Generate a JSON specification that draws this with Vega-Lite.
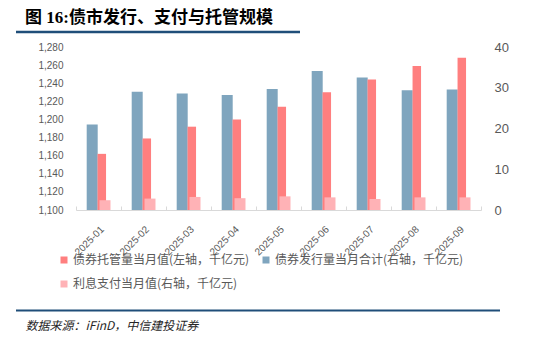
{
  "$schema": "https://vega.github.io/schema/vega-lite/v6.json",
  "width": 405,
  "height": 163,
  "autosize": {"type": "none"},
  "padding": {"left": 76, "top": 47, "right": 69, "bottom": 130},
  "background": "white",
  "config": {"view": {"stroke": null}, "font": "Noto Sans CJK SC"},
  "title": {
    "text": "图 16:债市发行、支付与托管规模",
    "anchor": "start",
    "frame": "group",
    "dx": -51,
    "offset": 4,
    "fontSize": 17,
    "fontWeight": "bold",
    "font": "Liberation Serif, Noto Sans CJK SC",
    "color": "#000000"
  },
  "data": {
    "values": [
      {"month": "2025-01", "series": "债券托管量当月值(左轴，千亿元)", "value": 1162},
      {"month": "2025-02", "series": "债券托管量当月值(左轴，千亿元)", "value": 1179},
      {"month": "2025-03", "series": "债券托管量当月值(左轴，千亿元)", "value": 1192},
      {"month": "2025-04", "series": "债券托管量当月值(左轴，千亿元)", "value": 1200},
      {"month": "2025-05", "series": "债券托管量当月值(左轴，千亿元)", "value": 1214},
      {"month": "2025-06", "series": "债券托管量当月值(左轴，千亿元)", "value": 1230},
      {"month": "2025-07", "series": "债券托管量当月值(左轴，千亿元)", "value": 1244},
      {"month": "2025-08", "series": "债券托管量当月值(左轴，千亿元)", "value": 1259},
      {"month": "2025-09", "series": "债券托管量当月值(左轴，千亿元)", "value": 1268},
      {"month": "2025-01", "series": "债券发行量当月合计(右轴，千亿元)", "value": 21.0},
      {"month": "2025-02", "series": "债券发行量当月合计(右轴，千亿元)", "value": 29.0},
      {"month": "2025-03", "series": "债券发行量当月合计(右轴，千亿元)", "value": 28.6},
      {"month": "2025-04", "series": "债券发行量当月合计(右轴，千亿元)", "value": 28.2},
      {"month": "2025-05", "series": "债券发行量当月合计(右轴，千亿元)", "value": 29.7},
      {"month": "2025-06", "series": "债券发行量当月合计(右轴，千亿元)", "value": 34.1},
      {"month": "2025-07", "series": "债券发行量当月合计(右轴，千亿元)", "value": 32.5},
      {"month": "2025-08", "series": "债券发行量当月合计(右轴，千亿元)", "value": 29.4},
      {"month": "2025-09", "series": "债券发行量当月合计(右轴，千亿元)", "value": 29.6},
      {"month": "2025-01", "series": "利息支付当月值(右轴，千亿元)", "value": 2.4},
      {"month": "2025-02", "series": "利息支付当月值(右轴，千亿元)", "value": 2.8},
      {"month": "2025-03", "series": "利息支付当月值(右轴，千亿元)", "value": 3.2},
      {"month": "2025-04", "series": "利息支付当月值(右轴，千亿元)", "value": 2.9},
      {"month": "2025-05", "series": "利息支付当月值(右轴，千亿元)", "value": 3.35},
      {"month": "2025-06", "series": "利息支付当月值(右轴，千亿元)", "value": 3.1},
      {"month": "2025-07", "series": "利息支付当月值(右轴，千亿元)", "value": 2.7},
      {"month": "2025-08", "series": "利息支付当月值(右轴，千亿元)", "value": 3.1},
      {"month": "2025-09", "series": "利息支付当月值(右轴，千亿元)", "value": 3.1}
    ]
  },
  "layer": [
    {
      "transform": [{"filter": "datum.series === '债券发行量当月合计(右轴，千亿元)'"}],
      "mark": {"type": "bar", "width": 11, "xOffset": -6.3},
      "encoding": {
        "x": {
          "field": "month", "type": "ordinal",
          "scale": {"paddingInner": 0, "paddingOuter": 0},
          "axis": {
            "title": "数据来源：iFinD，中信建投证券",
            "titleAnchor": "start", "titleAlign": "left",
            "titleX": -51, "titleY": 115, "titleBaseline": "middle",
            "titleFontStyle": "italic", "titleFontWeight": "normal",
            "titleFontSize": 12, "titleColor": "#262626", "titleFont": "Noto Sans CJK SC",
            "labelAngle": -45, "labelFontSize": 10, "labelColor": "#595959", "labelFont": "Liberation Sans",
            "labelPadding": 18, "labelOffset": 0, "labelLimit": 200, "labelOverlap": false, "labelBound": false,
            "domainColor": "#D9D9D9", "tickColor": "#D9D9D9", "tickBand": "extent", "tickSize": -4
          }
        },
        "y": {
          "field": "value", "type": "quantitative",
          "scale": {"domain": [0, 40], "nice": false},
          "axis": {
            "orient": "right", "values": [0, 10, 20, 30, 40], "title": null,
            "labelFontSize": 13, "labelColor": "#595959", "labelFont": "Liberation Sans",
            "labelPadding": 13, "domain": false, "ticks": false, "grid": false
          }
        },
        "color": {
          "field": "series", "type": "nominal",
          "scale": {
            "domain": ["债券托管量当月值(左轴，千亿元)", "债券发行量当月合计(右轴，千亿元)", "利息支付当月值(右轴，千亿元)"],
            "range": ["#FF7F7F", "#7FA5BE", "#FFB2B6"]
          },
          "legend": {
            "title": null, "orient": "none", "legendX": -18, "legendY": 207,
            "direction": "horizontal",
            "columns": 2, "columnPadding": 10, "rowPadding": 12,
            "symbolType": "square", "symbolSize": 49, "symbolStrokeWidth": 0,
            "labelFontSize": 12, "labelColor": "#595959", "labelFont": "Noto Sans CJK SC",
            "labelLimit": 400, "labelOffset": 3, "padding": 0
          }
        }
      }
    },
    {
      "transform": [{"filter": "datum.series === '债券托管量当月值(左轴，千亿元)'"}],
      "mark": {"type": "bar", "width": 8.5, "xOffset": 3.3},
      "encoding": {
        "x": {"field": "month", "type": "ordinal", "scale": {"paddingInner": 0, "paddingOuter": 0}},
        "y": {
          "field": "value", "type": "quantitative",
          "scale": {"domain": [1100, 1280], "nice": false, "zero": false},
          "axis": {
            "orient": "left", "values": [1100, 1120, 1140, 1160, 1180, 1200, 1220, 1240, 1260, 1280],
            "format": ",d", "title": null,
            "labelFontSize": 10, "labelColor": "#595959", "labelFont": "Liberation Sans",
            "labelPadding": 13, "domain": false, "ticks": false, "grid": false
          }
        },
        "y2": {"datum": 1100},
        "color": {"field": "series", "type": "nominal"}
      }
    },
    {
      "transform": [{"filter": "datum.series === '利息支付当月值(右轴，千亿元)'"}],
      "mark": {"type": "bar", "width": 11, "xOffset": 6.5},
      "encoding": {
        "x": {"field": "month", "type": "ordinal", "scale": {"paddingInner": 0, "paddingOuter": 0}},
        "y": {
          "field": "value", "type": "quantitative",
          "scale": {"domain": [0, 40], "nice": false},
          "axis": null
        },
        "color": {"field": "series", "type": "nominal"}
      }
    },
    {
      "data": {"values": [{"line": "title"}]},
      "mark": {"type": "rule", "color": "#1F4E79", "strokeWidth": 2.5},
      "encoding": {"x": {"value": -60}, "x2": {"value": 224}, "y": {"value": -15}}
    },
    {
      "data": {"values": [{"line": "footer"}]},
      "mark": {"type": "rule", "color": "#1F4E79", "strokeWidth": 2},
      "encoding": {"x": {"value": -60}, "x2": {"value": 424}, "y": {"value": 263.5}}
    }
  ],
  "resolve": {"scale": {"y": "independent"}, "axis": {"y": "independent"}}
}
